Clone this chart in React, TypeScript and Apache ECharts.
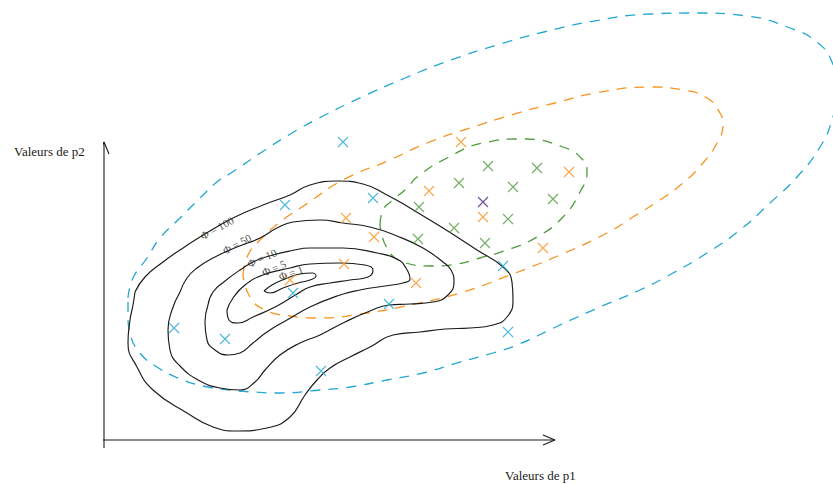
import React, { useEffect, useRef } from "react";
import * as echarts from "echarts";

// Coordinates: p1 along the horizontal axis, p2 along the vertical axis (origin at the axes' crossing)
const blueCrosses = [[239,298],[181,235],[269,242],[189,147],[285,136],[70,112],[121,101],[217,69],[399,174],[404,108]];
const orangeCrosses = [[357,298],[465,268],[325,249],[242,222],[270,203],[379,223],[439,192],[240,176],[312,157],[186,160]];
const greenCrosses = [[384,274],[433,272],[355,257],[409,253],[449,241],[315,233],[404,221],[350,212],[314,201],[381,197]];
const purpleCrosses = [[379,238]];

const blueEllipse = [[24,142],[29,162],[43,182],[56,202],[76,222],[96,242],[113,258],[127,267],[158,288],[188,307],[221,325],[258,343],[301,362],[347,380],[393,395],[440,408],[496,420],[546,426],[593,427],[643,424],[686,412],[713,398],[728,378],[734,350],[728,320],[716,293],[693,263],[666,237],[636,210],[603,187],[569,167],[536,150],[496,133],[456,115],[413,95],[389,87],[356,78],[319,67],[283,60],[246,53],[216,50],[176,47],[149,48],[126,50],[99,54],[74,62],[53,73],[36,87],[26,107],[24,125]];
const orangeEllipse = [[139,165],[144,185],[156,200],[176,218],[201,235],[239,260],[286,280],[323,297],[366,312],[407,325],[451,337],[492,347],[546,353],[579,350],[603,342],[616,327],[619,315],[613,297],[599,277],[579,257],[556,240],[529,223],[503,207],[456,185],[406,165],[356,147],[306,135],[263,127],[213,122],[186,124],[161,130],[146,143]];
const greenEllipse = [[276,215],[279,230],[289,240],[303,252],[313,263],[343,282],[379,297],[419,301],[459,293],[479,280],[483,268],[476,248],[459,223],[433,203],[403,190],[376,182],[353,176],[326,174],[299,178],[283,192]];

const contour100 = [[31,148],[29,135],[26,120],[24,97],[33,73],[49,50],[83,27],[109,13],[133,9],[163,12],[186,23],[201,45],[213,60],[226,72],[246,83],[266,93],[289,105],[316,108],[341,111],[366,112],[389,115],[403,123],[409,140],[408,158],[399,173],[373,190],[339,212],[306,232],[283,245],[259,256],[233,259],[206,255],[186,245],[159,235],[129,222],[96,203],[76,190],[59,178],[41,163]];
const contour50 = [[76,148],[68,130],[64,110],[66,90],[76,74],[96,59],[116,52],[136,50],[151,58],[161,70],[176,85],[196,97],[216,105],[241,118],[266,129],[285,135],[306,136],[329,138],[344,145],[350,158],[347,170],[339,178],[319,192],[293,204],[266,213],[239,217],[216,220],[189,218],[173,212],[156,202],[133,193],[109,182],[93,172],[83,162]];
const contour10 = [[104,135],[101,118],[103,100],[111,90],[124,85],[136,87],[149,97],[163,108],[183,120],[206,133],[233,144],[256,150],[281,154],[299,157],[306,161],[302,172],[293,181],[273,187],[239,192],[206,192],[186,189],[169,185],[151,179],[136,170],[121,159],[109,148]];
const contour5 = [[123,130],[125,120],[134,117],[149,123],[173,134],[193,146],[206,153],[226,157],[246,160],[264,163],[269,170],[261,175],[236,177],[206,176],[186,172],[159,165],[141,155],[129,142]];
const contour1 = [[160,149],[168,155],[181,161],[196,166],[208,167],[212,164],[206,160],[194,157],[179,152],[166,147]];

const contourLabels = ["Φ = 100", "Φ = 50", "Φ = 10", "Φ = 5", "Φ = 1"];
const contourLabelPos = [[113,212],[133,196],[158,182],[170,172],[187,167]];
const contourLabelAngle = [29, 28, 24, 23, 18];

const xAxisLine = [[-9,0],[451,0]];
const xArrow = [[439,5],[451,0],[439,-5]];
const yAxisLine = [[0,-8],[0,298]];
const yArrow = [[-5,286],[0,298],[5,286]];

const xTitle = "Valeurs de p1";
const yTitle = "Valeurs de p2";

const BLUE = "#23a7d0";
const ORANGE = "#f7931e";
const GREEN = "#4f9a3c";
const PURPLE = "#4b2380";
const BLACK = "#1a1a1a";
const SERIF = "'Liberation Serif', 'DejaVu Serif', serif";

const closed = (pts: number[][]) => [...pts, pts[0]];

const crossSymbol = "path://M0,0L10,10M10,0L0,10";

export default function App() {
  const ref = useRef<HTMLDivElement>(null);
  useEffect(() => {
    if (!ref.current) return;
    const chart = echarts.init(ref.current, undefined, { renderer: "svg" });
    const lineSeries = (data: number[][], color: string, dashed: boolean, z = 2) => ({
      type: "line",
      data,
      smooth: 0.5,
      symbol: "none",
      clip: false,
      z,
      lineStyle: { color, width: dashed ? 1.3 : 1.15, type: dashed ? [10, 8] : "solid" },
      silent: true,
    });
    const straight = (data: number[][]) => ({
      type: "line",
      data,
      symbol: "none",
      clip: false,
      lineStyle: { color: BLACK, width: 1.1 },
      silent: true,
    });
    const crosses = (data: number[][], color: string) => ({
      type: "scatter",
      data,
      symbol: crossSymbol,
      symbolSize: 10,
      clip: false,
      z: 5,
      itemStyle: { color: "transparent", borderColor: color, borderWidth: 1.2 },
      silent: true,
    });
    const labelSeries = contourLabels.map((t, i) => ({
      type: "scatter",
      data: [contourLabelPos[i]],
      symbolSize: 0,
      z: 6,
      label: {
        show: true,
        formatter: t,
        position: "inside",
        rotate: contourLabelAngle[i],
        fontFamily: SERIF,
        fontSize: 11,
        color: BLACK,
        textBorderWidth: 0,
      },
      silent: true,
    }));
    chart.setOption({
      animation: false,
      backgroundColor: "#ffffff",
      grid: { left: 104, top: 0, right: 0, bottom: 44 },
      xAxis: { type: "value", min: 0, max: 729, show: false },
      yAxis: { type: "value", min: 0, max: 440, show: false },
      graphic: [
        { type: "text", left: 14, top: 145, style: { text: yTitle, font: `13px ${SERIF}`, fill: BLACK } },
        { type: "text", left: 505, top: 469, style: { text: xTitle, font: `13px ${SERIF}`, fill: BLACK } },
      ],
      series: [
        straight(xAxisLine),
        straight(xArrow),
        straight(yAxisLine),
        straight(yArrow),
        lineSeries(closed(blueEllipse), BLUE, true),
        lineSeries(closed(orangeEllipse), ORANGE, true),
        lineSeries(closed(greenEllipse), GREEN, true),
        lineSeries(closed(contour100), BLACK, false, 3),
        lineSeries(closed(contour50), BLACK, false, 3),
        lineSeries(closed(contour10), BLACK, false, 3),
        lineSeries(closed(contour5), BLACK, false, 3),
        lineSeries(closed(contour1), BLACK, false, 3),
        crosses(blueCrosses, BLUE),
        crosses(orangeCrosses, ORANGE),
        crosses(greenCrosses, GREEN),
        crosses(purpleCrosses, PURPLE),
        ...labelSeries,
      ],
    });
    return () => chart.dispose();
  }, []);
  return <div ref={ref} style={{ width: 833, height: 484, position: "absolute", left: 0, top: 0 }} />;
}
